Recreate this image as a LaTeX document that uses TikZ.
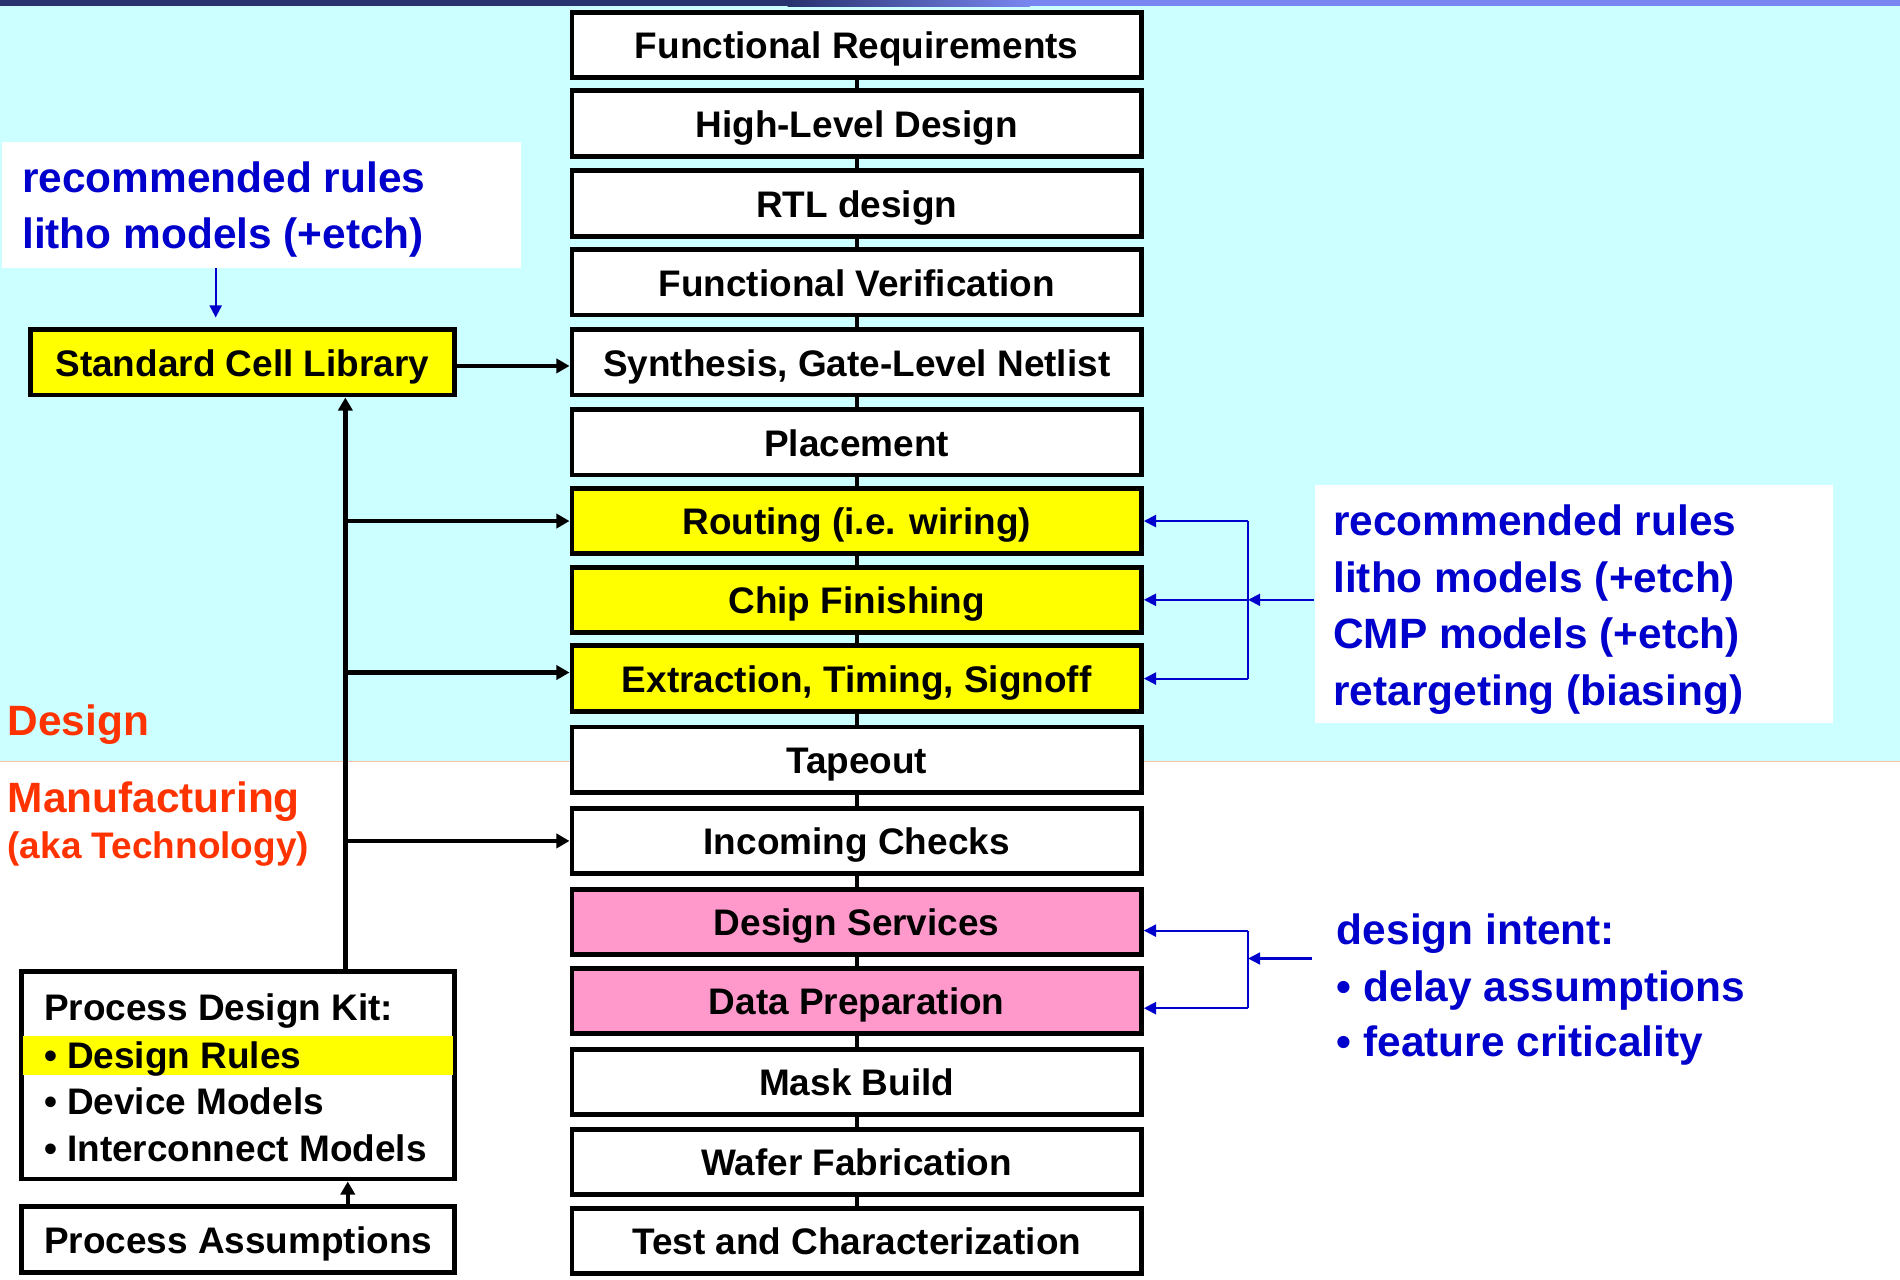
\documentclass[tikz,border=0pt]{standalone}
\usepackage{fontspec}
\setmainfont{Liberation Sans}
\usetikzlibrary{arrows.meta,calc}
\definecolor{bgcyan}{RGB}{204,255,255}
\definecolor{boxyellow}{RGB}{255,255,0}
\definecolor{boxpink}{RGB}{255,153,204}
\definecolor{txtblue}{RGB}{0,0,204}
\definecolor{txtred}{RGB}{255,51,0}
\definecolor{barL}{RGB}{40,50,110}
\definecolor{barR}{RGB}{122,134,240}
\definecolor{sepline}{RGB}{255,190,170}
\begin{document}
\begin{tikzpicture}[x=0.6pt,y=-0.6pt,
  flowbox/.style={draw=black,line width=2.4pt,fill=white,minimum width=282pt,minimum height=32.4pt,
    inner sep=0pt,font=\fontsize{18.3}{22}\selectfont\bfseries,text height=17pt,text depth=3.3pt},
  blktext/.style={anchor=west,inner sep=0pt,font=\fontsize{18.3}{22}\selectfont\bfseries,text height=17pt,text depth=3.3pt},
  bluetext/.style={anchor=west,inner sep=0pt,text=txtblue,font=\fontsize{21}{25}\selectfont\bfseries,text height=18.6pt,text depth=4pt},
  redtext/.style={anchor=west,inner sep=0pt,text=txtred,font=\fontsize{21}{25}\selectfont\bfseries,text height=18.6pt,text depth=4pt},
  redsmall/.style={anchor=west,inner sep=0pt,text=txtred,font=\fontsize{18.3}{22}\selectfont\bfseries,text height=17pt,text depth=3.3pt},
  link/.style={draw=black,line width=1.8pt},
  blkarrow/.style={draw=black,line width=2.2pt,-{Triangle[length=6.5pt,width=7pt]}},
  bluearrow/.style={draw=txtblue,line width=1pt,-{Triangle[length=6pt,width=6pt]}},
  blueline/.style={draw=txtblue,line width=1pt},
  calloutbox/.style={fill=white,inner sep=0pt}
]
\useasboundingbox (0,0) rectangle (1568,1056);
% background
\fill[white] (0,0) rectangle (1568,1056);
\fill[bgcyan] (0,5) rectangle (1568,628.5);
\draw[sepline,line width=0.6pt] (0,628.5) -- (1568,628.5);
\fill[barL] (0,0) rectangle (650,5);
\shade[left color=barL,right color=barR] (650,0) rectangle (850,5);
\fill[barR] (850,0) rectangle (1568,5);

% central flow
\node[flowbox] (fr)  at (707,37)  {Functional Requirements};
\node[flowbox] (hld) at (707,102) {High-Level Design};
\node[flowbox] (rtl) at (707,168) {RTL design};
\node[flowbox] (fv)  at (707,233) {Functional Verification};
\node[flowbox] (syn) at (707,299) {Synthesis, Gate-Level Netlist};
\node[flowbox] (pl)  at (707,365) {Placement};
\node[flowbox,fill=boxyellow] (rt)  at (707,430) {Routing (i.e. wiring)};
\node[flowbox,fill=boxyellow] (cf)  at (707,495) {Chip Finishing};
\node[flowbox,fill=boxyellow] (ext) at (707,560) {Extraction, Timing, Signoff};
\node[flowbox] (tap) at (707,627) {Tapeout};
\node[flowbox] (inc) at (707,694) {Incoming Checks};
\node[flowbox,fill=boxpink] (ds) at (707,761) {Design Services};
\node[flowbox,fill=boxpink] (dp) at (707,826) {Data Preparation};
\node[flowbox] (mb) at (707,893) {Mask Build};
\node[flowbox] (wf) at (707,959) {Wafer Fabrication};
\node[flowbox] (tc) at (707,1024) {Test and Characterization};
\foreach \a/\b in {fr/hld,hld/rtl,rtl/fv,fv/syn,syn/pl,pl/rt,rt/cf,cf/ext,ext/tap,tap/inc,inc/ds,ds/dp,dp/mb,mb/wf,wf/tc}
  \draw[link] (\a.south) -- (\b.north);

% left column
\node[calloutbox,minimum width=256.8pt,minimum height=62.4pt] (lbox) at (216,169) {};
\node[bluetext] (lt1) at (18,147) {recommended rules};
\node[bluetext] (lt2) at (18,193) {litho models (+etch)};
\node[flowbox,fill=boxyellow,minimum width=210pt] (scl) at (200,299) {Standard Cell Library};

\node[draw=black,line width=2.4pt,fill=white,minimum width=214.2pt,minimum height=102.6pt,inner sep=0pt] (pdk) at (196.5,887.5) {};
\fill[boxyellow] (19,855) rectangle (374,887);
\node[blktext] (pdk1) at (36,831) {Process Design Kit:};
\node[blktext] (pdk2) at (36,870) {• Design Rules};
\node[blktext] (pdk3) at (36,908) {• Device Models};
\node[blktext] (pdk4) at (36,947) {• Interconnect Models};
\node[flowbox,minimum width=214.2pt] (pa) at (196.5,1023) {Process Assumptions};

\node[redtext] (lbdesign) at (6,595) {Design};
\node[redtext] (lbmfg) at (6,658) {Manufacturing};
\node[redsmall] (lbaka) at (6,697) {(aka Technology)};

% right column
\node[calloutbox,minimum width=256.8pt,minimum height=118.2pt] (rbox) at (1299,498.5) {};
\node[bluetext] (rt1) at (1100,430) {recommended rules};
\node[bluetext] (rt2) at (1100,477) {litho models (+etch)};
\node[bluetext] (rt3) at (1100,523) {CMP models (+etch)};
\node[bluetext] (rt4) at (1100,570) {retargeting (biasing)};

\node[bluetext] (di1) at (1103,767) {design intent:};
\node[bluetext] (di2) at (1103,814) {• delay assumptions};
\node[bluetext] (di3) at (1103,860) {• feature criticality};

% coordinates
\coordinate (sp) at (285,0);
\coordinate (pax) at (287,0);
\coordinate (lx) at (178,0);
\coordinate (bx) at (1030,0);
\coordinate (y302) at (0,302);
\coordinate (y555) at (0,555);
\coordinate (y768) at (0,768);
\coordinate (y791) at (0,791);
\coordinate (y832) at (0,832);
\coordinate (difeed) at (1083,791);

% black arrows
\draw[blkarrow] (scl.east |- y302) -- (syn.west |- y302);
\draw[blkarrow] (sp |- pdk.north) -- (sp |- scl.south);
\draw[blkarrow] (sp |- rt.west) -- (rt.west);
\draw[blkarrow] (sp |- y555) -- (ext.west |- y555);
\draw[blkarrow] (sp |- inc.west) -- (inc.west);
\draw[blkarrow] (pax |- pa.north) -- (pax |- pdk.south);

% blue arrows
\draw[bluearrow] (lx |- lbox.south) -- ($(lx |- scl.north)+(0,-8)$);
\draw[blueline] (bx |- rt.east) -- (bx |- ext.east);
\draw[bluearrow] (bx |- rt.east) -- (rt.east);
\draw[bluearrow] (bx |- cf.east) -- (cf.east);
\draw[bluearrow] (bx |- ext.east) -- (ext.east);
\draw[bluearrow] (rbox.west |- cf.east) -- (bx |- cf.east);

\draw[blueline] (bx |- y768) -- (bx |- y832);
\draw[bluearrow] (bx |- y768) -- (ds.east |- y768);
\draw[bluearrow] (bx |- y832) -- (dp.east |- y832);
\draw[bluearrow] (difeed) -- (bx |- y791);
\end{tikzpicture}
\end{document}
